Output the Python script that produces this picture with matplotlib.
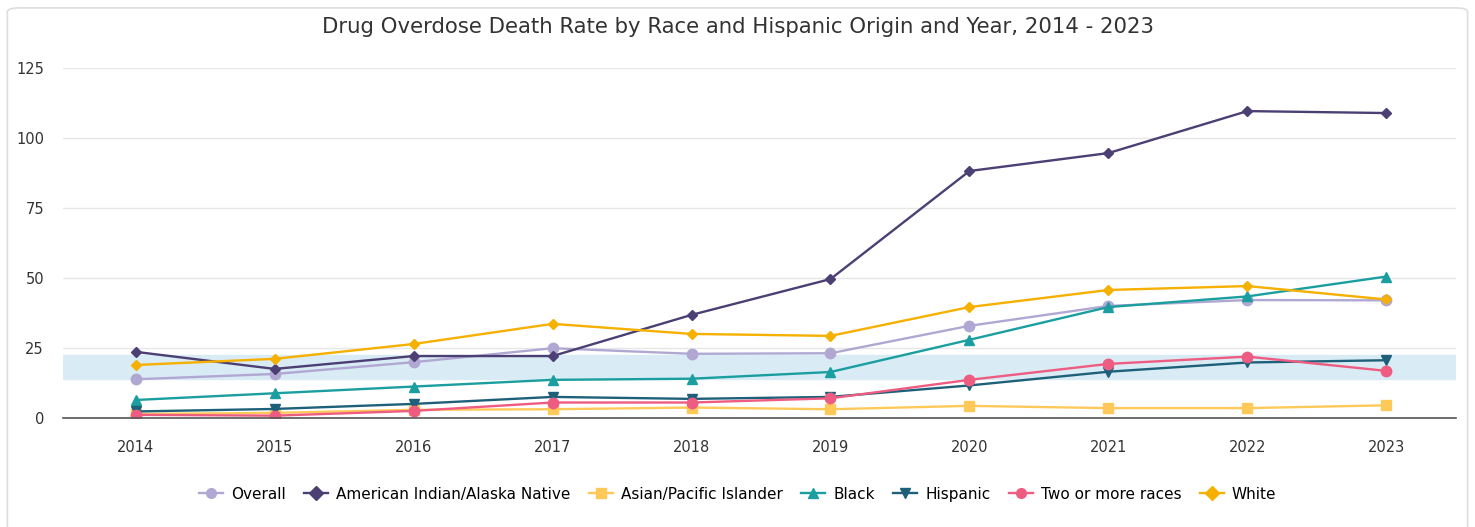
import numpy as np
import matplotlib.pyplot as plt
from matplotlib.patches import FancyBboxPatch

# data
years = [2014, 2015, 2016, 2017, 2018, 2019, 2020, 2021, 2022, 2023]
overall = [13.8, 15.7, 19.9, 24.9, 22.9, 23.1, 32.9, 40.0, 42.1, 42.0]
aian = [23.6, 17.5, 22.1, 22.1, 36.8, 49.6, 88.2, 94.6, 109.6, 108.9]
asian_pi = [1.4, 1.8, 2.9, 3.1, 3.7, 3.1, 4.3, 3.5, 3.5, 4.5]
black = [6.4, 8.8, 11.2, 13.6, 14.0, 16.4, 27.9, 39.6, 43.4, 50.5]
hispanic = [2.3, 3.2, 5.0, 7.5, 6.8, 7.5, 11.6, 16.5, 19.8, 20.6]
two_plus = [1.1, 0.8, 2.5, 5.5, 5.5, 7.0, 13.6, 19.3, 21.9, 16.8]
white = [18.9, 21.1, 26.4, 33.6, 30.0, 29.3, 39.6, 45.7, 47.1, 42.3]

band_low, band_high = 13.9, 22.5

series = [
    ("Overall", overall, "#b0a8d3", "o", 7.5),
    ("American Indian/Alaska Native", aian, "#4b3f74", "D", 5),
    ("Asian/Pacific Islander", asian_pi, "#ffc95a", "s", 7.5),
    ("Black", black, "#1a9e9f", "^", 7.5),
    ("Hispanic", hispanic, "#1e607a", "v", 7.5),
    ("Two or more races", two_plus, "#ee5c82", "o", 7.5),
    ("White", white, "#f5b000", "D", 5),
]

fig = plt.figure(figsize=(14.75, 5.27), dpi=100)
frame = FancyBboxPatch((0.005, -0.05), 0.99, 1.035,
                       boxstyle="round,pad=0,rounding_size=0.008",
                       transform=fig.transFigure, facecolor="none",
                       edgecolor="#dddddd", linewidth=1.2)
fig.patches.append(frame)

ax = fig.add_axes([0.043, 0.207, 0.944, 0.664])
ax.set_facecolor("none")

ax.axhspan(band_low, band_high, color="#d9ebf4", zorder=0)

for name, vals, col, mk, ms in series:
    ax.plot(years, vals, color=col, marker=mk, markersize=ms, linewidth=1.7,
            label=name, zorder=3)

ax.set_xlim(2013.48, 2023.5)
ax.set_ylim(0, 125)
ax.set_yticks([0, 25, 50, 75, 100, 125])
ax.set_xticks(years)
ax.grid(axis="y", color="#e6e6e6", linewidth=1)
ax.set_axisbelow(True)
for s in ["top", "right", "left"]:
    ax.spines[s].set_visible(False)
ax.spines["bottom"].set_color("#555555")
ax.spines["bottom"].set_linewidth(1.2)
ax.spines["bottom"].set_zorder(4)
ax.tick_params(axis="both", length=0, labelsize=10.5, colors="#333333")
ax.tick_params(axis="y", pad=14)
ax.tick_params(axis="x", pad=16)

fig.text(0.5, 0.949, "Drug Overdose Death Rate by Race and Hispanic Origin and Year, 2014 - 2023",
         ha="center", va="center", fontsize=15.3, fontweight="medium", color="#333333")

leg = fig.legend(loc="center", bbox_to_anchor=(0.5, 0.062), ncol=7, frameon=False,
                 fontsize=11, handlelength=1.6, columnspacing=1.2, handletextpad=0.5)
for h in leg.legend_handles:
    h.set_markersize(7)

fig.savefig("out.png", dpi=100)
